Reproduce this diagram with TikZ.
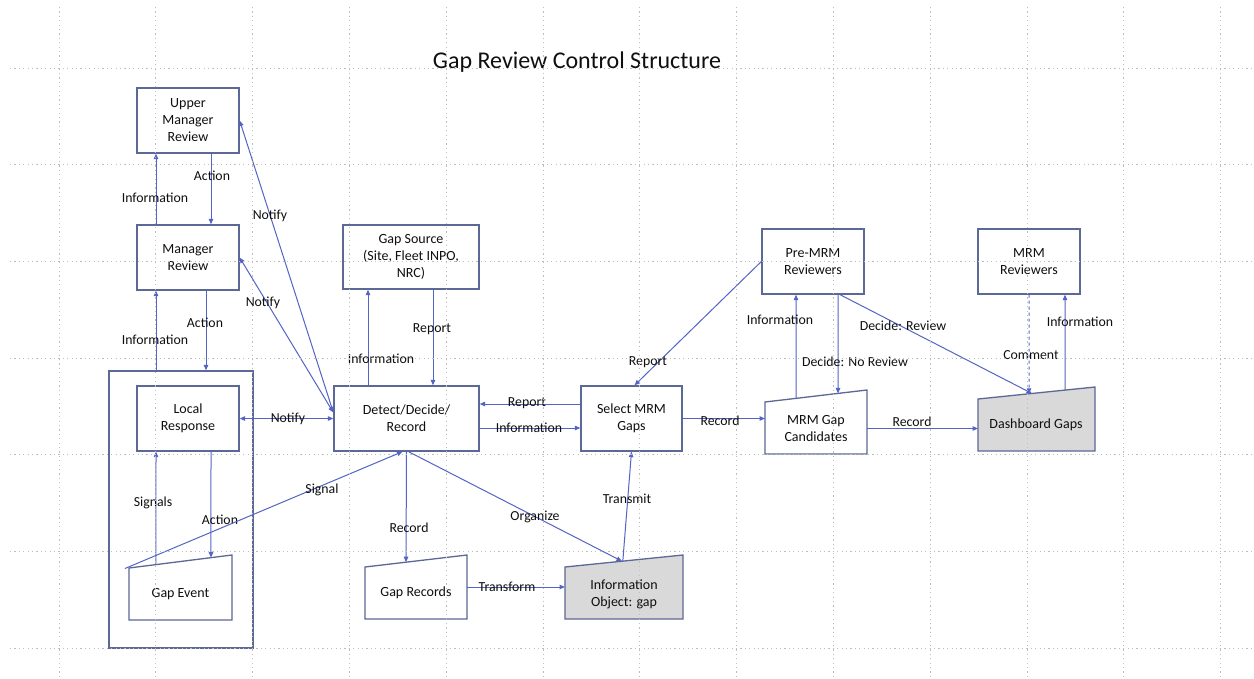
\documentclass[tikz,border=0pt]{standalone}
\usepackage{fontspec}
\setmainfont{Carlito}
\usetikzlibrary{arrows.meta,calc}

\definecolor{linkblue}{RGB}{84,100,196}
\definecolor{boxedge}{RGB}{92,104,150}
\definecolor{shade}{RGB}{217,217,217}
\definecolor{gridgray}{RGB}{190,190,190}
\definecolor{inkgray}{RGB}{15,15,15}

\newcommand\diagfont{\fontsize{14}{17}\selectfont}
\newcommand\lblfont{\fontsize{13.8}{16}\selectfont}
\newcommand\headfont{\fontsize{24}{28}\selectfont}

% corner coordinates of a manual-input shape: name, left, right, top-left y, top-right y, bottom y
\newcommand\manualinput[6]{%
  \coordinate (#1-tl) at (#2,#4);
  \coordinate (#1-tr) at (#3,#5);
  \coordinate (#1-br) at (#3,#6);
  \coordinate (#1-bl) at (#2,#6);
}

\begin{document}
\begin{tikzpicture}[x=1pt,y=-1pt,
  box/.style={draw=boxedge, line width=1.3pt, rectangle, inner sep=0pt,
              align=center, font=\diagfont, text=inkgray},
  trapedge/.style={draw=boxedge, line width=1.3pt, line join=miter},
  traptext/.style={align=center, font=\diagfont, text=inkgray, inner sep=0pt},
  tip/.tip={Triangle[length=5.5pt,width=4.5pt]},
  link/.style={draw=linkblue, line width=1pt, -tip},
  link2/.style={draw=linkblue, line width=1pt, tip-tip},
  lbl/.style={font=\lblfont, text=inkgray, inner sep=1pt},
  gridline/.style={draw=gridgray, line width=0.9pt, dash pattern=on 1.2pt off 3.2pt}
]
\fill[white] (0,0) rectangle (1254,678);
\useasboundingbox (0,0) rectangle (1254,678);

% title
\node[font=\headfont, text=inkgray] (title) at (577,62) {Gap Review Control Structure};

% rectangular process boxes
\node[box, minimum width=102, minimum height=65] (umr) at (188,120.5) {Upper\\Manager\\Review};
\node[box, minimum width=102, minimum height=65] (mgr) at (188,257.5) {Manager\\Review};
\node[box, minimum width=144, minimum height=277] (outer) at (181,509.5) {};
\node[box, minimum width=102, minimum height=65] (loc) at (188,418.5) {Local\\Response};
\node[box, minimum width=136, minimum height=64] (src) at (411,257) {Gap Source\\(Site, Fleet INPO,\\NRC)};
\node[box, minimum width=145, minimum height=65] (det) at (406.5,418.5) {Detect/Decide/\\Record};
\node[box, minimum width=101, minimum height=65] (sel) at (631.5,418.5) {Select MRM\\Gaps};
\node[box, minimum width=102, minimum height=65] (pre) at (813,261.5) {Pre-MRM\\Reviewers};
\node[box, minimum width=102, minimum height=65] (mrr) at (1029,261.5) {MRM\\Reviewers};

% manual-input shapes
\manualinput{gev}{129}{232}{568}{555}{620}
\manualinput{grec}{365}{467}{567}{555}{619}
\manualinput{info}{565}{683}{567}{555}{619}
\manualinput{cand}{765}{867}{402}{390}{454}
\manualinput{dash}{978}{1095}{399}{387}{451}

\draw[trapedge] (gev-tl) -- (gev-tr) -- (gev-br) -- (gev-bl) -- cycle;
\draw[trapedge] (grec-tl) -- (grec-tr) -- (grec-br) -- (grec-bl) -- cycle;
\draw[trapedge, fill=shade] (info-tl) -- (info-tr) -- (info-br) -- (info-bl) -- cycle;
\draw[trapedge] (cand-tl) -- (cand-tr) -- (cand-br) -- (cand-bl) -- cycle;
\draw[trapedge, fill=shade] (dash-tl) -- (dash-tr) -- (dash-br) -- (dash-bl) -- cycle;

\node[traptext] (gev) at (180.5,594) {Gap Event};
\node[traptext] (grec) at (416,593) {Gap Records};
\node[traptext] (info) at (624,594) {Information\\Object: gap};
\node[traptext] (cand) at (816,428.5) {MRM Gap\\Candidates};
\node[traptext] (dash) at (1036,425) {Dashboard Gaps};

% management chain
\draw[link] ([xshift=-32]mgr.north) -- ([xshift=-32]umr.south)
  node[lbl] at (155,198) {Information};
\draw[link] ([xshift=23]umr.south) -- ([xshift=23]mgr.north)
  node[lbl] at (212,176) {Action};
\draw[link] ([xshift=-25]outer.north) -- ([xshift=-32]mgr.south)
  node[lbl] at (155,340) {Information};
\draw[link] ([xshift=18]mgr.south) -- ([xshift=25]outer.north)
  node[lbl] at (205,323) {Action};

% notifications
\draw[link2] (loc.east) -- (det.west)
  node[lbl] at (288,419) {Notify};
\draw[link2] ([yshift=6]det.west) -- (mgr.east)
  node[lbl] at (263,303) {Notify};
\draw[link2] ([yshift=6]det.west) -- (umr.east)
  node[lbl] at (270,216) {Notify};

% local loop with the gap event
\draw[link] ($(gev-tl)!0.262!(gev-tr)$) -- ([xshift=-32]loc.south)
  node[lbl] at (153,503) {Signals};
\draw[link] ([xshift=23]loc.south) -- ($(gev-tl)!0.796!(gev-tr)$)
  node[lbl] at (220,520) {Action};
\draw[link] ($(gev-tl)!-0.04!(gev-tr)$) -- ([xshift=-4]det.south)
  node[lbl] at (322,490) {Signal};

% gap source
\draw[link] ([xshift=-38.5]det.north) -- ([xshift=-43]src.south)
  node[lbl] at (381,359) {Information};
\draw[link] ([xshift=22]src.south) -- ([xshift=26.5]det.north)
  node[lbl] at (432,329) {Report};

% detect / select exchange
\draw[link] ([yshift=14.5]sel.west) -- ([yshift=14.5]det.east)
  node[lbl] at (527,403) {Report};
\draw[link] ([yshift=-9.5]det.east) -- ([yshift=-9.5]sel.west)
  node[lbl] at (529,428) {Information};

% records and information object
\draw[link] (det.south) -- ($(grec-tl)!0.402!(grec-tr)$)
  node[lbl] at (409,528) {Record};
\draw[link] ([xshift=2]det.south) -- ($(info-tl)!0.483!(info-tr)$)
  node[lbl] at (535,517) {Organize};
\draw[link] ($(info-tl)!0.49!(info-tr)$) -- (sel.south)
  node[lbl] at (627,499) {Transmit};
\draw[link] ($(grec-tr)!0.5!(grec-br)$) coordinate (tfm) -- (tfm -| info-bl)
  node[lbl] at (507,587) {Transform};

% MRM review chain
\draw[link] (pre.west) -- ([xshift=3]sel.north)
  node[lbl] at (648,362) {Report};
\draw[link] (sel.east) -- (sel.east -| cand-bl)
  node[lbl] at (720,421) {Record};
\draw[link] ($(cand-tl)!0.304!(cand-tr)$) -- ([xshift=-17]pre.south)
  node[lbl] at (780,320) {Information};
\draw[link] ([xshift=25]pre.south) -- ($(cand-tl)!0.716!(cand-tr)$)
  node[lbl] at (855,362) {Decide: No Review};
\draw[link] ([xshift=27]pre.south) -- ($(dash-tl)!0.4615!(dash-tr)$)
  node[lbl] at (903,326) {Decide: Review};
\draw[link] (cand.center -| cand-br) -- (cand.center -| dash-bl)
  node[lbl] at (912,422) {Record};
\draw[link, dashed] (mrr.south) -- ($(dash-tl)!0.436!(dash-tr)$)
  node[lbl] at (1031,355) {Comment};
\draw[link] ($(dash-tl)!0.744!(dash-tr)$) -- ([xshift=36]mrr.south)
  node[lbl] at (1080,322) {Information};

% dotted page grid
\foreach \i in {0,...,12}
  \draw[gridline] ({59+96.8*\i},7) -- ({59+96.8*\i},678);
\foreach \j in {0,...,6}
  \draw[gridline] (10,{68+96.7*\j}) -- (1254,{68+96.7*\j});
\end{tikzpicture}
\end{document}
